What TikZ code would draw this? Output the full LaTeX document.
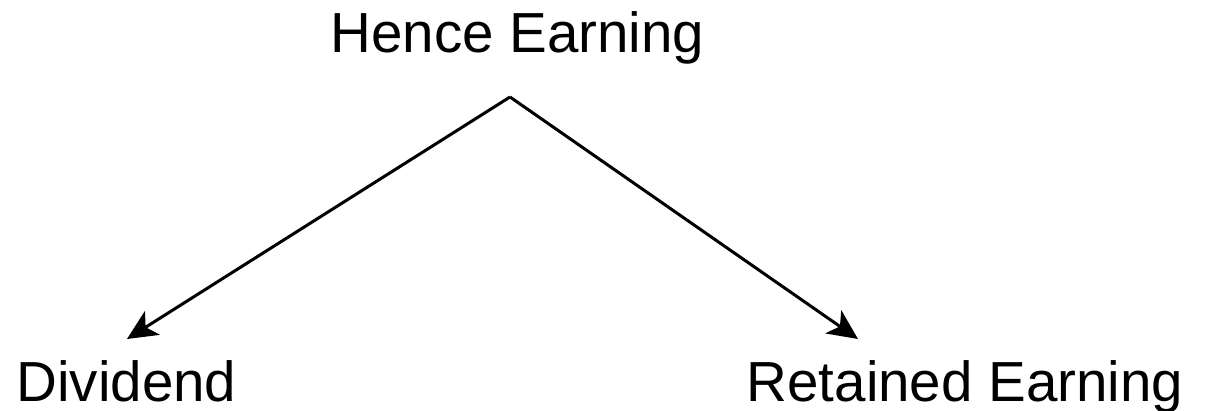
\documentclass[tikz,border=0pt]{standalone}
\usepackage{fontspec}
\setmainfont{Liberation Sans}
\usetikzlibrary{arrows.meta}
\begin{document}
\begin{tikzpicture}[x=1pt,y=-1pt,
  lbl/.style={inner sep=0pt, anchor=base, font=\fontsize{56.5}{60}\selectfont},
  conn/.style={line width=3pt, -{Stealth[length=30pt,width=28pt,inset=8pt]}}]
\useasboundingbox (0,0) rectangle (1205,411);
\node[lbl] (top) at (517.5,53) {Hence Earning};
\node[lbl] (div) at (126.5,402) {Dividend};
\node[lbl] (ret) at (965,402) {Retained Earning};
\coordinate (apex) at (510,97);
\coordinate (ltip) at (127,339);
\coordinate (rtip) at (858,339);
\draw[conn] (apex) -- (ltip);
\draw[conn] (apex) -- (rtip);
\end{tikzpicture}
\end{document}
